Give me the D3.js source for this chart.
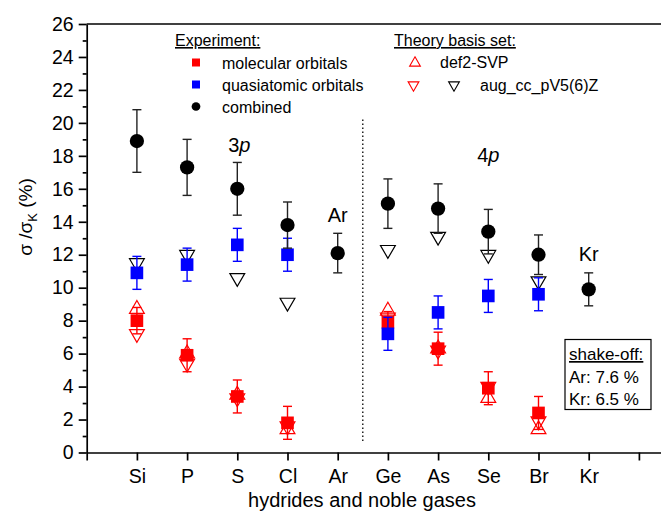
<!DOCTYPE html>
<html>
<head>
<meta charset="utf-8">
<script src="https://cdn.jsdelivr.net/npm/d3@7"></script>
<style>
  body { margin: 0; background: #fff; }
  svg { display: block; font-family: "Liberation Sans", Arial, sans-serif; }
</style>
</head>
<body>
<div class="vis"></div>
<script>
// categories
const elements = ["Si", "P", "S", "Cl", "Ar", "Ge", "As", "Se", "Br", "Kr"];

// experiment
const combined    = [18.9, 17.3, 16.0, 13.8, 12.1, 15.1, 14.8, 13.4, 12.0, 9.9];
const combinedErr = [1.9, 1.7, 1.6, 1.4, 1.2, 1.5, 1.5, 1.35, 1.2, 1.0];
const quasi       = [10.9, 11.4, 12.6, 12.0, null, 7.2, 8.5, 9.5, 9.6, null];
const quasiErr    = [1.0, 1.0, 1.0, 1.0, null, 1.0, 1.0, 1.0, 1.0, null];
const molecular   = [8.0, 5.9, 3.4, 1.8, null, 7.9, 6.3, 3.9, 2.4, null];
const molecularErr= [0.8, 1.0, 1.0, 1.0, null, 0.65, 1.0, 1.0, 1.0, null];

// theory
const def2Svp     = [8.7, 6.0, 3.5, 1.4, null, 8.6, 6.3, 3.3, 1.4, null];
const augMol      = [7.2, 5.4, 3.3, 1.6, null, 8.2, 6.2, 4.0, 1.9, null];
const augComb     = [11.5, 12.0, 10.6, 9.1, null, 12.3, 13.1, 12.0, 10.4, null];

const yTicks = d3.range(0, 27, 2);

const W = 661, H = 516;
const svg = d3.select('.vis').append('svg')
    .attr('width', W)
    .attr('height', H);

const x = d3.scaleLinear().domain([0, 11.5]).range([86.7, 664]);
const y = d3.scaleLinear().domain([0, 26]).range([452.5, 24]);

// Axes
svg.append('g')
    .attr('transform', 'translate(' + x(0) + ',0)')
    .call(d3.axisLeft(y).tickValues(yTicks).tickSize(8).tickPadding(5).tickSizeOuter(0));
svg.append('g')
    .attr('transform', 'translate(' + x(0) + ',0)')
    .call(d3.axisLeft(y).tickValues(d3.range(1, 26, 2)).tickSize(4).tickFormat('').tickSizeOuter(0))
    .call(g => g.select('.domain').remove());
svg.append('g')
    .attr('transform', 'translate(0,' + y(0) + ')')
    .call(d3.axisBottom(x).tickValues(d3.range(0, 12)).tickSize(8).tickPadding(9)
        .tickFormat(i => elements[i - 1] || '').tickSizeOuter(0));

svg.selectAll('.domain, .tick line').attr('stroke', '#000').attr('stroke-width', 1.7);
svg.selectAll('.tick text').attr('font-size', 19.5).attr('fill', '#000')
    .attr('font-family', '"Liberation Sans", Arial, sans-serif');

// top frame line
svg.append('line')
    .attr('x1', x(0)).attr('x2', W)
    .attr('y1', y(26)).attr('y2', y(26))
    .attr('stroke', '#000').attr('stroke-width', 1.7);

// separator between 3p and 4p
svg.append('line')
    .attr('x1', x(5.5)).attr('x2', x(5.5))
    .attr('y1', y(20.2)).attr('y2', y(0.65))
    .attr('stroke', '#000').attr('stroke-width', 1.3)
    .attr('stroke-dasharray', '1.3,2.7');

// axis titles
svg.append('text')
    .attr('text-anchor', 'middle')
    .attr('x', 362).attr('y', 507)
    .attr('font-size', 20)
    .text('hydrides and noble gases');

const yt = svg.append('text')
    .attr('text-anchor', 'middle')
    .attr('transform', 'translate(32,217) rotate(-90)')
    .attr('font-size', 19);
yt.append('tspan').text('\u03c3 /\u03c3');
yt.append('tspan').attr('font-size', 13).attr('dy', 5).text('K');
yt.append('tspan').attr('dy', -5).text(' (%)');

// annotations
const note = (tx, ty, a, b) => {
    const t = svg.append('text').attr('x', tx).attr('y', ty)
        .attr('text-anchor', 'middle').attr('font-size', 20);
    t.append('tspan').text(a);
    if (b) t.append('tspan').attr('font-style', 'italic').text(b);
};
note(x(3) + 2, 152, '3', 'p');
note(x(5), 222, 'Ar');
note(x(8), 162, '4', 'p');
note(x(10), 261, 'Kr');

// helpers
const idx = elements.map((d, i) => i);
const valid = arr => idx.filter(i => arr[i] != null);

function errorBars(vals, errs, color) {
    const g = svg.append('g').attr('stroke', color).attr('stroke-width', 1.4);
    valid(vals).forEach(i => {
        const cx = x(i + 1);
        const y1 = y(vals[i] + errs[i]), y2 = y(vals[i] - errs[i]);
        g.append('line').attr('x1', cx).attr('x2', cx).attr('y1', y1).attr('y2', y2);
        g.append('line').attr('x1', cx - 4.5).attr('x2', cx + 4.5).attr('y1', y1).attr('y2', y1);
        g.append('line').attr('x1', cx - 4.5).attr('x2', cx + 4.5).attr('y1', y2).attr('y2', y2);
    });
}

function markers(vals, type, size, fill, stroke, rot) {
    svg.append('g').selectAll('path')
        .data(valid(vals))
        .join('path')
        .attr('d', d3.symbol().type(type).size(size))
        .attr('transform', i => 'translate(' + x(i + 1) + ',' + y(vals[i]) + ')' + (rot ? ' rotate(180)' : ''))
        .attr('fill', fill)
        .attr('stroke', stroke)
        .attr('stroke-width', 1.2);
}

// theory triangles
markers(augComb, d3.symbolTriangle, 95, 'none', '#000', true);
markers(def2Svp, d3.symbolTriangle, 95, 'none', '#ff0000', false);
markers(augMol, d3.symbolTriangle, 95, 'none', '#ff0000', true);

// experiment
errorBars(molecular, molecularErr, '#ff0000');
markers(molecular, d3.symbolSquare, 160, '#ff0000', 'none');
errorBars(quasi, quasiErr, '#0000ff');
markers(quasi, d3.symbolSquare, 160, '#0000ff', 'none');
errorBars(combined, combinedErr, '#222');
markers(combined, d3.symbolCircle, 160, '#000', 'none');

// legend
const lg = svg.append('g').attr('font-size', 16);
lg.append('text').attr('x', 175).attr('y', 46).attr('text-decoration', 'underline').text('Experiment:');
lg.append('text').attr('x', 394).attr('y', 46).attr('text-decoration', 'underline').text('Theory basis set:');

const legRows = [
    { sym: d3.symbolSquare, size: 64, fill: '#ff0000', label: 'molecular orbitals' },
    { sym: d3.symbolSquare, size: 64, fill: '#0000ff', label: 'quasiatomic orbitals' },
    { sym: d3.symbolCircle, size: 60, fill: '#000', label: 'combined' }
];
legRows.forEach((r, k) => {
    const cy = 62.5 + k * 22;
    lg.append('path').attr('d', d3.symbol().type(r.sym).size(r.size))
        .attr('transform', 'translate(196,' + cy + ')').attr('fill', r.fill);
    lg.append('text').attr('x', 222).attr('y', cy + 6).text(r.label);
});
const tri = (tx, ty, color, rot) => lg.append('path')
    .attr('d', d3.symbol().type(d3.symbolTriangle).size(50))
    .attr('transform', 'translate(' + tx + ',' + ty + ')' + (rot ? ' rotate(180)' : ''))
    .attr('fill', 'none').attr('stroke', color).attr('stroke-width', 1.1);
tri(415, 63, '#ff0000', false);
lg.append('text').attr('x', 440).attr('y', 68).text('def2-SVP');
tri(413.5, 85, '#ff0000', true);
tri(454, 85, '#000', true);
lg.append('text').attr('x', 480).attr('y', 91).text('aug_cc_pV5(6)Z');

// shake-off box
const box = svg.append('g').attr('font-size', 17);
box.append('rect').attr('x', 565).attr('y', 339.5).attr('width', 86).attr('height', 70)
    .attr('fill', '#fff').attr('stroke', '#000').attr('stroke-width', 1.2);
box.append('text').attr('x', 569).attr('y', 360).attr('text-decoration', 'underline').text('shake-off:');
box.append('text').attr('x', 569).attr('y', 383).text('Ar: 7.6 %');
box.append('text').attr('x', 569).attr('y', 405).text('Kr: 6.5 %');
</script>
</body>
</html>
